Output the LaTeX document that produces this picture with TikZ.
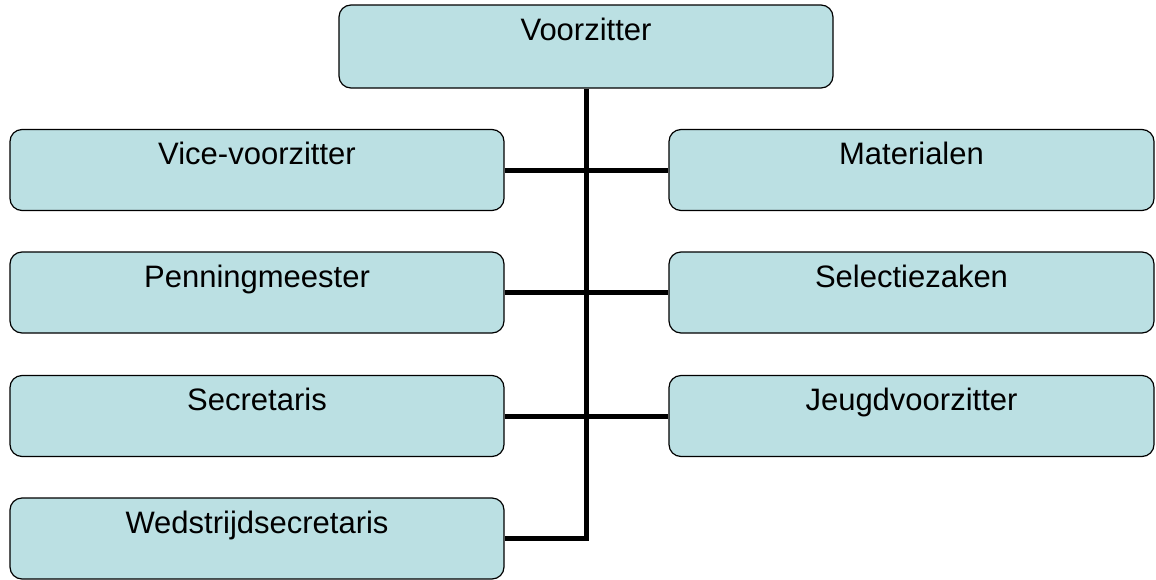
\documentclass[tikz,border=0pt]{standalone}
\usepackage{fontspec}
\setmainfont{Liberation Sans}
\definecolor{boxfill}{RGB}{187,224,227}
\begin{document}
\begin{tikzpicture}[x=0.75pt,y=-0.75pt,
  post/.style={draw=black, line width=0.9pt, fill=boxfill, rounded corners=9pt,
    inner sep=0pt, minimum height=60.75pt, text height=26.25pt, text depth=34.5pt,
    font=\fontsize{23.25}{28}\selectfont},
  link/.style={line width=3.75pt}]
\useasboundingbox (0,0) rectangle (1156,579);
\def \lx {257}
\def \rx {911.5}
\node[post, minimum width=370.5pt, minimum height=62.25pt, text depth=36pt] (vz) at (586,46.5) {Voorzitter};
\foreach \nm/\txt/\y in {vv/Vice-voorzitter/170, pm/Penningmeester/292.5, sc/Secretaris/416, ws/Wedstrijdsecretaris/538.5}
  {\node[post, minimum width=370.5pt] (\nm) at (\lx,\y) {\txt};}
\foreach \nm/\txt/\y in {ma/Materialen/170, sz/Selectiezaken/292.5, jv/Jeugdvoorzitter/416}
  {\node[post, minimum width=363.75pt] (\nm) at (\rx,\y) {\txt};}
\draw[link] (vz.south) -- (vz.south |- ws.east) -- (ws.east);
\foreach \l/\r in {vv/ma, pm/sz, sc/jv}
  {\draw[link] (\l.east) -- (\r.west);}
\end{tikzpicture}
\end{document}
